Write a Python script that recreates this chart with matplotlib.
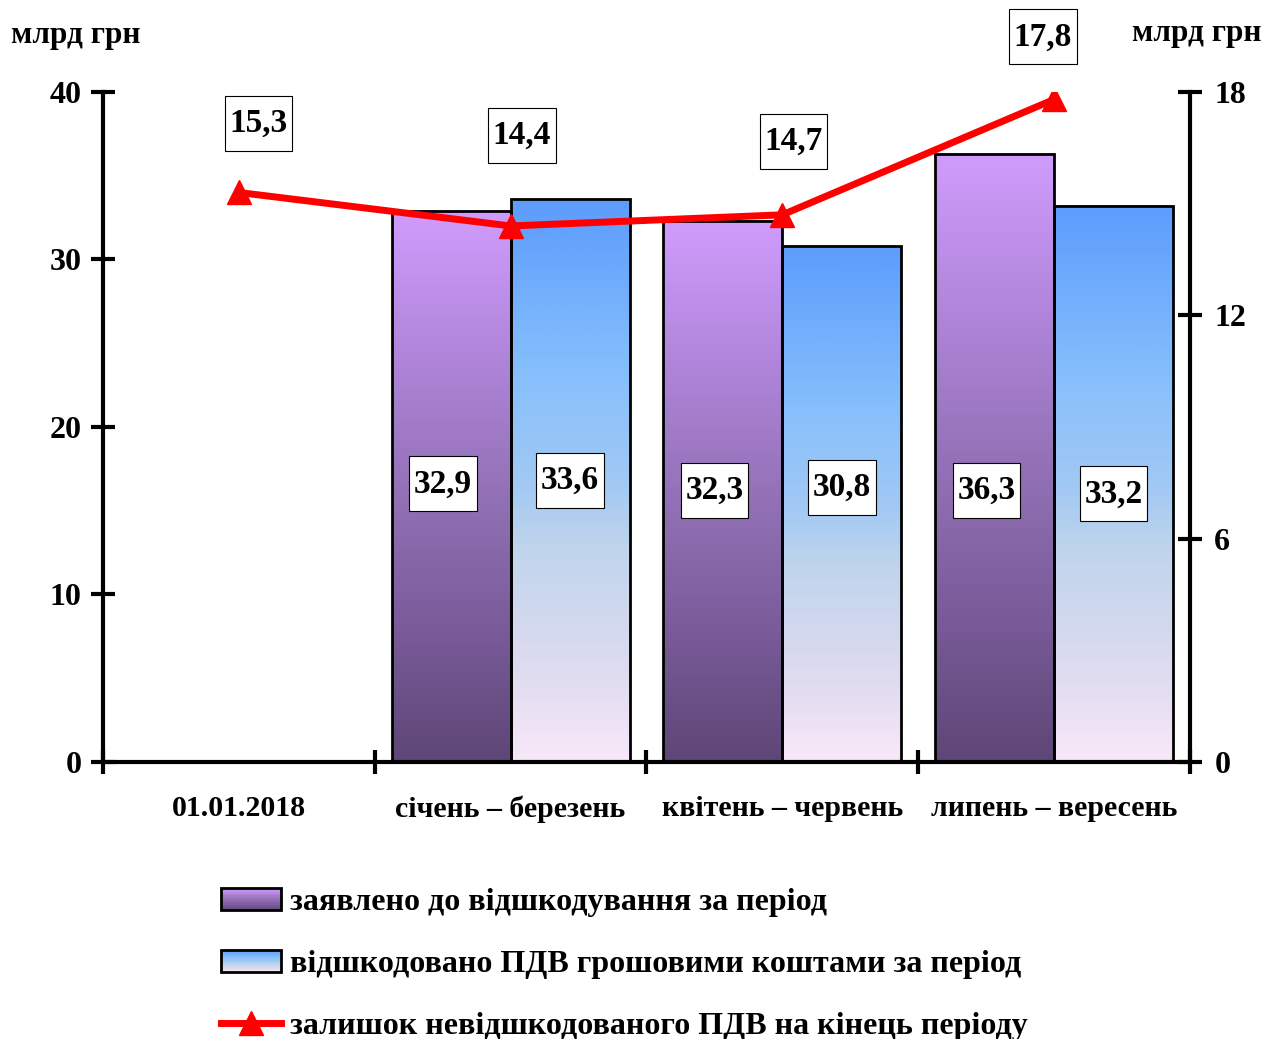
import numpy as np
import matplotlib
matplotlib.use('Agg')
import matplotlib.pyplot as plt
from matplotlib.colors import LinearSegmentedColormap
from matplotlib.patches import Rectangle
from matplotlib.path import Path
from matplotlib.legend_handler import HandlerBase
from matplotlib.lines import Line2D

plt.rcParams['font.family'] = ['Liberation Serif', 'DejaVu Serif']
plt.rcParams['font.weight'] = 'bold'

# data, млрд грн
periods = ['01.01.2018', 'січень – березень', 'квітень – червень', 'липень – вересень']
claimed = [np.nan, 32.9, 32.3, 36.3]    # заявлено до відшкодування
refunded = [np.nan, 33.6, 30.8, 33.2]   # відшкодовано грошовими коштами
balance = [15.3, 14.4, 14.7, 17.8]      # залишок на кінець періоду

names = ['заявлено до відшкодування за період',
         'відшкодовано ПДВ грошовими коштами за період',
         'залишок невідшкодованого ПДВ на кінець періоду']

# label placement (layout only)
bar_label_y = [16.6, 16.8, 16.2, 16.4, 16.2, 16.0]
line_label_off = [(14, 50), (8, 65), (8, 53), (-8, 45)]

purple = LinearSegmentedColormap.from_list(
    'purple', ['#5e4676', '#7a5c9a', '#9572b8', '#b186dc', '#d09cfc'])
blue = LinearSegmentedColormap.from_list(
    'blue', [(0, '#f8e8f8'), (0.15, '#e0dcf0'), (0.38, '#c0d4ec'),
             (0.5, '#a0c8f4'), (0.68, '#88c0fc'), (1, '#5c9cfc')])
grad = np.linspace(0, 1, 256).reshape(-1, 1)


def tall_box(x0, y0, width, height, mutation_size):
    # box with small side padding and larger top/bottom padding
    px = 0.14 * mutation_size
    py = 0.36 * mutation_size
    x0, y0 = x0 - px, y0 - py
    x1, y1 = x0 + width + 2 * px, y0 + height + 2 * py
    return Path([(x0, y0), (x1, y0), (x1, y1), (x0, y1), (x0, y0)], closed=True)


fig = plt.figure(figsize=(12.76, 10.39), dpi=100)
ax = fig.add_axes([0.0807, 0.2666, 0.8519, 0.6449])
ax2 = ax.twinx()

x = np.arange(len(periods))
w = 0.4375
for xs, vals, cmap in [(x - w / 2, claimed, purple), (x + w / 2, refunded, blue)]:
    for xi, v in zip(xs, vals):
        if np.isnan(v):
            continue
        ax.imshow(grad, cmap=cmap, origin='lower', aspect='auto',
                  extent=[xi - w / 2, xi + w / 2, 0, v], zorder=2)
    ax.bar(xs, vals, w, fill=False, edgecolor='black', lw=2, zorder=3)

box = dict(boxstyle=tall_box, fc='white', ec='black', lw=0.8)

# labels in bars, ordered by period
labels_order = []
for i in range(1, len(periods)):
    labels_order.append((x[i] - w / 2 - 0.03, claimed[i]))
    labels_order.append((x[i] + w / 2, refunded[i]))
for (xi, v), ly in zip(labels_order, bar_label_y):
    ax.text(xi, ly, f'{v:.1f}'.replace('.', ','), ha='center', va='center',
            fontsize=24, zorder=5, bbox=box)

ax.set_xlim(-0.5, len(periods) - 0.5)
ax.set_ylim(0, 40)
ax.set_yticks([0, 10, 20, 30, 40])
ax2.set_ylim(0, 18)
ax2.set_yticks([0, 6, 12, 18])

ax2.plot(x, balance, color='#ff0000', lw=5, marker='^', ms=17, zorder=4)
for xi, v, off in zip(x, balance, line_label_off):
    ax2.annotate(f'{v:.1f}'.replace('.', ','), (xi, v), xytext=off,
                 textcoords='offset points', ha='center', va='center',
                 fontsize=24, bbox=box)

for a in (ax, ax2):
    a.spines['top'].set_visible(False)
    for s in a.spines.values():
        s.set_linewidth(3)
ax.spines['right'].set_visible(False)
ax2.spines['left'].set_visible(False)
ax2.spines['bottom'].set_visible(False)

ax.set_xticks(np.arange(-0.5, len(periods)))
ax.set_xticklabels([])
ax.set_xticks(x, minor=True)
ax.set_xticklabels(periods, minor=True)
ax.tick_params(axis='x', which='major', direction='inout', length=17, width=3)
ax.tick_params(axis='x', which='minor', length=0, pad=24, labelsize=21.5)
ax.tick_params(axis='y', direction='inout', length=17, width=3, labelsize=23, pad=7)
ax2.tick_params(axis='y', direction='inout', length=17, width=3, labelsize=23, pad=9)

fig.text(0.009, 0.966, 'млрд грн', fontsize=22.5, ha='left', va='center')
fig.text(0.989, 0.968, 'млрд грн', fontsize=22.5, ha='right', va='center')


class GradHandler(HandlerBase):
    def __init__(self, cmap):
        super().__init__()
        self.cmap = cmap

    def create_artists(self, legend, orig, xd, yd, width, height, fontsize, trans):
        arts = []
        n = 12
        for j in range(n):
            arts.append(Rectangle((xd, yd + height * j / n), width, height / n,
                                  fc=self.cmap((j + 0.5) / n), ec='none', transform=trans))
        arts.append(Rectangle((xd, yd), width, height, fill=False, ec='black',
                              lw=2, transform=trans))
        return arts


h1 = Rectangle((0, 0), 1, 1)
h2 = Rectangle((0, 0), 1, 1)
h3 = Line2D([], [], color='#ff0000', lw=5, marker='^', ms=17)
fig.legend([h1, h2, h3], names, loc='upper left', bbox_to_anchor=(0.151, 0.173),
           frameon=False, fontsize=23, handlelength=1.85, handleheight=0.7,
           handletextpad=0.3, labelspacing=1.02,
           handler_map={h1: GradHandler(purple), h2: GradHandler(blue)})

fig.savefig('out.png', dpi=100)
